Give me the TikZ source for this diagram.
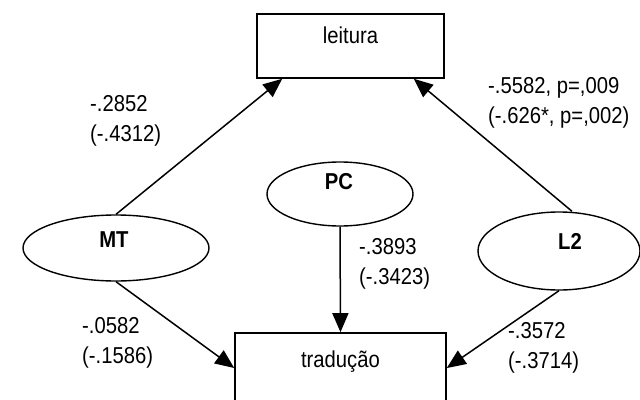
\documentclass[tikz,border=0pt]{standalone}
\usepackage{fontspec}
\setmainfont{Liberation Sans}[FakeStretch=0.88]
\usetikzlibrary{arrows.meta,shapes.geometric}
\begin{document}
\begin{tikzpicture}[x=1pt,y=-1pt,
  every node/.style={font=\fontsize{23}{30}\selectfont},
  box/.style={draw, line width=1.6pt, rectangle, inner sep=0pt},
  latent/.style={draw, line width=1.4pt, ellipse, inner sep=0pt},
  effect/.style={line width=1.5pt, -{Triangle[length=19pt,width=16pt]}},
  lbl/.style={anchor=base west, align=left, inner sep=0pt}]
\clip (0,0) rectangle (640,399);
\node[box, minimum width=187pt, minimum height=64pt,
      label={[yshift=11pt]center:leitura}] (leitura) at (350.5,46) {};
\node[box, minimum width=211pt, minimum height=70pt,
      label={[yshift=6pt]center:tradução}] (traducao) at (340.5,368) {};
\node[latent, minimum width=186pt, minimum height=66pt,
      label={[xshift=-2pt,yshift=8pt]center:\textbf{MT}}] (mt) at (116,248) {};
\node[latent, minimum width=146pt, minimum height=64pt,
      label={[xshift=-1pt,yshift=12pt]center:\textbf{PC}}] (pc) at (340,194) {};
\node[latent, minimum width=162pt, minimum height=78pt,
      label={[xshift=11pt,yshift=9.5pt]center:\textbf{L2}}] (l2) at (559,251) {};

\node[lbl] (lab1) at (90,141) {-.2852\\(-.4312)};
\node[lbl] (lab2) at (488,123) {-.5582, p=,009\\(-.626*, p=,002)};
\node[lbl] (lab3) at (359,284) {-.3893\\(-.3423)};
\node[lbl] (lab4) at (82,363) {-.0582\\(-.1586)};
\node[lbl] (lab5) at (508,368) {-.3572\\(-.3714)};

\draw[effect] (mt.north) -- ([xshift=26pt]leitura.south west);
\draw[effect] ([xshift=13pt]l2.north) -- ([xshift=-31pt]leitura.south east);
\draw[effect] (pc.south) -- (traducao.north);
\draw[effect] (mt.south) -- (traducao.west);
\draw[effect] (l2.south) -- (traducao.east);
\end{tikzpicture}
\end{document}
